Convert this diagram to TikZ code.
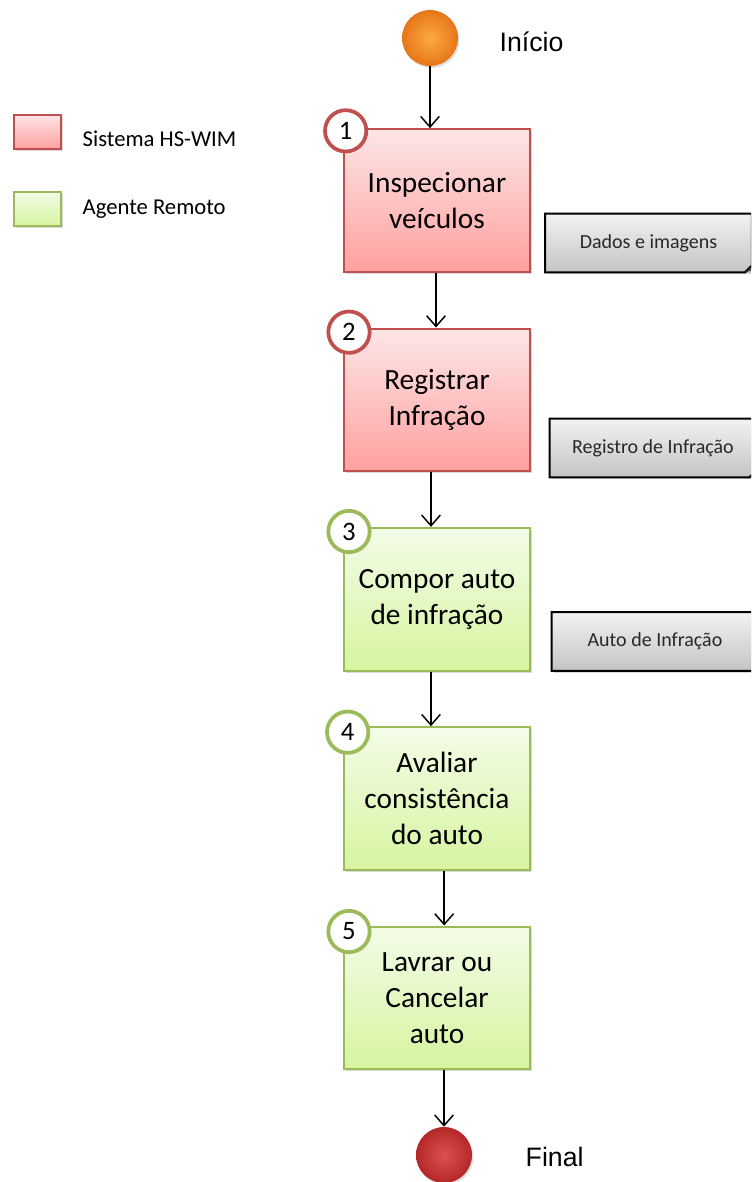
\documentclass[tikz,border=0pt]{standalone}
\usepackage{fontspec}
\setmainfont{Carlito}
\newfontfamily\arialfont{Liberation Sans}
\usetikzlibrary{arrows.meta,shadows}

\definecolor{redtop}{RGB}{253,230,230}
\definecolor{redbot}{RGB}{255,160,160}
\definecolor{redline}{RGB}{192,80,77}
\definecolor{greentop}{RGB}{243,252,232}
\definecolor{greenbot}{RGB}{214,245,160}
\definecolor{greenline}{RGB}{155,187,89}
\definecolor{doctop}{RGB}{242,242,242}
\definecolor{docbot}{RGB}{196,196,196}
\definecolor{doctext}{RGB}{40,40,40}
\definecolor{startin}{RGB}{252,170,70}
\definecolor{startout}{RGB}{230,118,24}
\definecolor{endin}{RGB}{222,80,80}
\definecolor{endout}{RGB}{180,40,40}

\tikzstyle{box} = [rectangle, minimum width=139.5pt, minimum height=107pt, text centered, align=center, line width=1.5pt, font=\fontsize{22}{27}\selectfont, drop shadow={opacity=0.3, shadow xshift=1.5pt, shadow yshift=-1.5pt}]
\tikzstyle{redbox} = [box, draw=redline, top color=redtop, bottom color=redbot]
\tikzstyle{greenbox} = [box, draw=greenline, top color=greentop, bottom color=greenbot]
\tikzstyle{num} = [circle, fill=white, minimum size=31pt, inner sep=0pt, line width=2.8pt, font=\fontsize{20}{20}\selectfont]
\tikzstyle{rednum} = [num, draw=redline]
\tikzstyle{greennum} = [num, draw=greenline]
\tikzstyle{doc} = [rectangle, minimum width=154.5pt, minimum height=43.5pt, top color=doctop, bottom color=docbot, text=doctext, font=\fontsize{15}{18}\selectfont, drop shadow={opacity=0.3, shadow xshift=1.5pt, shadow yshift=-1.5pt}]
\tikzstyle{ball} = [circle, minimum size=42pt, inner sep=0pt, shading=radial, drop shadow={opacity=0.25, shadow xshift=1pt, shadow yshift=-1.5pt}]
\tikzstyle{legend} = [rectangle, minimum width=35pt, minimum height=26pt, line width=1.5pt, drop shadow={opacity=0.3, shadow xshift=1.5pt, shadow yshift=-1.5pt}]
\tikzstyle{arrow} = [line width=1.1pt, -{Straight Barb[length=8pt, width=14pt]}]

\begin{document}
\begin{tikzpicture}[x=0.75pt, y=-0.75pt]
  \clip (0,0) rectangle (751,1182);

  % legend
  \node (Legend Red) [legend, draw=redline, top color=redtop, bottom color=redbot] at (37.5,132) {};
  \node (Legend Red Text) [anchor=west, font=\fontsize{17}{20}\selectfont] at (78,139) {Sistema HS-WIM};
  \node (Legend Green) [legend, draw=greenline, top color=greentop, bottom color=greenbot] at (37.5,209) {};
  \node (Legend Green Text) [anchor=west, font=\fontsize{17}{20}\selectfont] at (78,209) {Agente Remoto};

  % flow
  \node (Start) [ball, inner color=startin, outer color=startout] at (430,38) {};
  \node (Start Text) [anchor=west, font=\arialfont\fontsize{20}{24}\selectfont] at (495,42) {Início};

  \begin{scope}[node distance=149.5pt]
  \node (Inspect) [redbox] at (437,200.5) {Inspecionar\\veículos};
  \node (Register) [redbox, below of=Inspect] {Registrar\\Infração};
  \node (Compose) [greenbox, below of=Register] {Compor auto\\de infração};
  \node (Evaluate) [greenbox, below of=Compose] {Avaliar\\consistência\\do auto};
  \node (Issue) [greenbox, below of=Evaluate] {Lavrar ou\\Cancelar\\auto};
  \end{scope}

  \node (End) [ball, inner color=endin, outer color=endout] at (444,1155) {};
  \node (End Text) [anchor=west, font=\arialfont\fontsize{20}{24}\selectfont] at (521,1157) {Final};

  % step numbers
  \node (Num1) [rednum] at ([shift={(2pt,-2pt)}]Inspect.north west) {1};
  \node (Num2) [rednum] at ([shift={(4.5pt,-3.5pt)}]Register.north west) {2};
  \node (Num3) [greennum] at ([shift={(4.5pt,-3.5pt)}]Compose.north west) {3};
  \node (Num4) [greennum] at ([shift={(3.5pt,-4.5pt)}]Evaluate.north west) {4};
  \node (Num5) [greennum] at ([shift={(4.5pt,-4.5pt)}]Issue.north west) {5};

  % documents
  \node (Data) [doc] at (648.5,243) {Dados e imagens};
  \node (Record) [doc] at (653,448) {Registro de Infração};
  \node (Ticket) [doc] at (655,641.5) {Auto de Infração};
  \foreach \d in {Data,Record,Ticket} {
    \draw [line width=1.5pt] (\d.north west) -- (\d.north east) -- ([yshift=5pt]\d.south east) -- ([xshift=-5pt]\d.south east) -- (\d.south west) -- cycle;
    \fill [black!80] ([yshift=5pt]\d.south east) -- ([xshift=-5pt]\d.south east) -- ([xshift=-1pt,yshift=1pt]\d.south east) -- cycle;
  }

  % connectors
  \draw [arrow] (Start) -- (Start |- Inspect.north);
  \draw [arrow] ([xshift=-0.75pt]Inspect.south) -- ([xshift=-0.75pt]Inspect.south |- Register.north);
  \draw [arrow] ([xshift=-4.5pt]Register.south) -- ([xshift=-4.5pt]Register.south |- Compose.north);
  \draw [arrow] ([xshift=-4.5pt]Compose.south) -- ([xshift=-4.5pt]Compose.south |- Evaluate.north);
  \draw [arrow] ([xshift=5.4pt]Evaluate.south) -- ([xshift=5.4pt]Evaluate.south |- Issue.north);
  \draw [arrow] (Issue.south -| End) -- (End);
\end{tikzpicture}
\end{document}
